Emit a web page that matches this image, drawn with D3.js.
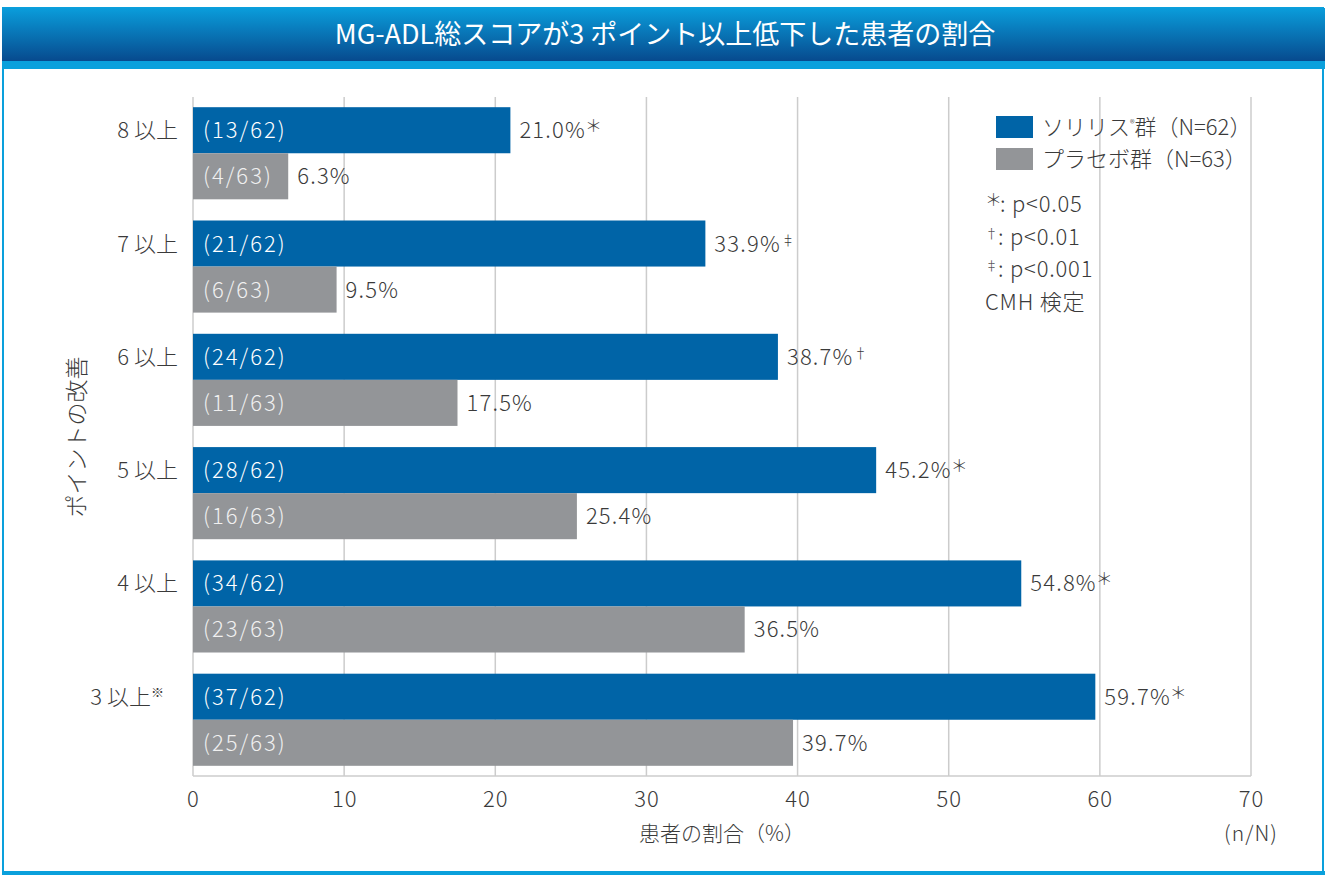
<!DOCTYPE html>
<html>
<head>
<meta charset="utf-8">
<script src="https://cdn.jsdelivr.net/npm/d3@7"></script>
<style>
  body { margin: 0; background: #fff; }
  text { font-family: "Noto Sans CJK JP", "Noto Sans", sans-serif; font-weight: 300; }
</style>
</head>
<body>
<div id="chart"></div>
<script>
var categories = ["8 以上", "7 以上", "6 以上", "5 以上", "4 以上", "3 以上"];
var soliris = [21.0, 33.9, 38.7, 45.2, 54.8, 59.7];
var placebo = [6.3, 9.5, 17.5, 25.4, 36.5, 39.7];
var solirisN = ["(13/62)", "(21/62)", "(24/62)", "(28/62)", "(34/62)", "(37/62)"];
var placeboN = ["(4/63)", "(6/63)", "(11/63)", "(16/63)", "(23/63)", "(25/63)"];
var solirisMark = ["＊", "‡", "†", "＊", "＊", "＊"];
var xTicks = [0, 10, 20, 30, 40, 50, 60, 70];

var width = 1325, height = 875;
var margin = { top: 97, right: 74, bottom: 99, left: 193 };
var ink = "#3a3a3a";

var svg = d3.select("#chart").append("svg")
  .attr("width", width).attr("height", height);

var defs = svg.append("defs");
var grad = defs.append("linearGradient").attr("id", "hdr")
  .attr("x1", 0).attr("y1", 0).attr("x2", 0).attr("y2", 1);
grad.append("stop").attr("offset", "0%").attr("stop-color", "#0a9ddb");
grad.append("stop").attr("offset", "100%").attr("stop-color", "#074a8e");

// frame
svg.append("rect").attr("x", 3).attr("y", 8).attr("width", width - 5).attr("height", 865)
  .attr("fill", "none").attr("stroke", "#0aa0dc").attr("stroke-width", 2);
svg.append("rect").attr("x", 2).attr("y", 871).attr("width", width - 2).attr("height", 4)
  .attr("fill", "#0aa0dc");
svg.append("rect").attr("x", 2).attr("y", 8).attr("width", width - 2).attr("height", 53)
  .attr("fill", "url(#hdr)");
svg.append("rect").attr("x", 2).attr("y", 61).attr("width", width - 2).attr("height", 8)
  .attr("fill", "#0aa0dc");
svg.append("text").attr("x", 665).attr("y", 44).attr("text-anchor", "middle")
  .attr("fill", "#fff").attr("font-size", 27).style("font-weight", 400)
  .text("MG-ADL総スコアが3 ポイント以上低下した患者の割合");

var x = d3.scaleLinear().domain([0, 70]).range([margin.left, width - margin.right]);
var y = d3.scaleBand().domain(categories).range([margin.top, height - margin.bottom])
  .paddingInner(0.187).paddingOuter(0.09);

var g = svg.append("g");

// grid
g.selectAll(".grid").data(xTicks.slice(1)).enter().append("line")
  .attr("x1", d => x(d)).attr("x2", d => x(d))
  .attr("y1", margin.top).attr("y2", height - margin.bottom)
  .attr("stroke", "#cccccc").attr("stroke-width", 1.5);
g.append("line").attr("x1", x(0)).attr("x2", x(0))
  .attr("y1", margin.top).attr("y2", height - margin.bottom)
  .attr("stroke", "#cccccc").attr("stroke-width", 1.5);
g.append("line").attr("x1", x(0)).attr("x2", x(70))
  .attr("y1", height - margin.bottom).attr("y2", height - margin.bottom)
  .attr("stroke", "#cccccc").attr("stroke-width", 1.5);

// x axis labels
var xAxis = g.append("g").attr("transform", "translate(0," + (height - margin.bottom) + ")")
  .call(d3.axisBottom(x).tickValues(xTicks).tickSize(0).tickPadding(15));
xAxis.select(".domain").remove();
xAxis.selectAll("text").attr("font-size", 22).attr("fill", ink)
  .attr("letter-spacing", 1)
  .style("font-family", "'Noto Sans CJK JP', sans-serif").style("font-weight", 300);

svg.append("text").attr("x", 722).attr("y", 841).attr("text-anchor", "middle")
  .attr("font-size", 21).attr("fill", ink).text("患者の割合（%）");
svg.append("text").attr("x", 1251).attr("y", 841).attr("text-anchor", "middle")
  .attr("font-size", 21).attr("letter-spacing", 1).attr("fill", ink).text("(n/N)");

// y axis labels
var half = y.bandwidth() / 2;
var yl = g.selectAll(".ylab").data(categories).enter().append("text")
  .attr("x", 178).attr("y", d => y(d) + half * 0.5 + 8)
  .attr("text-anchor", "end").attr("font-size", 22).attr("fill", ink)
  .text(d => d);
yl.filter((d, i) => i === categories.length - 1)
  .attr("x", 164)
  .append("tspan").attr("font-size", 13).attr("dy", -8).text("※");

svg.append("text").attr("transform", "translate(85,437) rotate(-90)")
  .attr("text-anchor", "middle").attr("font-size", 23).attr("fill", ink)
  .text("ポイントの改善");

// bars
var blue = "#0064a7", gray = "#939598";
categories.forEach(function (c, i) {
  var y0 = y(c);
  g.append("rect").attr("x", x(0)).attr("y", y0).attr("width", x(soliris[i]) - x(0))
    .attr("height", half).attr("fill", blue);
  g.append("rect").attr("x", x(0)).attr("y", y0 + half).attr("width", x(placebo[i]) - x(0))
    .attr("height", half).attr("fill", gray);
  g.append("text").attr("x", x(0) + 10).attr("y", y0 + half / 2 + 8)
    .attr("font-size", 22).attr("letter-spacing", 2).attr("fill", "#fff").text(solirisN[i]);
  g.append("text").attr("x", x(0) + 10).attr("y", y0 + half * 1.5 + 8)
    .attr("font-size", 22).attr("letter-spacing", 2).attr("fill", "#f0f0f0").text(placeboN[i]);
  var t = g.append("text").attr("x", x(soliris[i]) + 9).attr("y", y0 + half / 2 + 8)
    .attr("font-size", 22).attr("letter-spacing", 1.2).attr("fill", ink)
    .text(soliris[i].toFixed(1) + "%");
  var star = solirisMark[i] === "＊";
  t.append("tspan").attr("font-size", star ? 17 : 14)
    .attr("letter-spacing", 0)
    .attr("dx", star ? -1 : 0)
    .attr("dy", star ? -6 : -7).text(solirisMark[i]);
  g.append("text").attr("x", x(placebo[i]) + 9).attr("y", y0 + half * 1.5 + 8)
    .attr("font-size", 22).attr("letter-spacing", 1.2).attr("fill", ink)
    .text(placebo[i].toFixed(1) + "%");
});

// legend
var legend = [["ソリリス", "群（N=62）", blue], ["プラセボ群（N=63）", "", gray]];
legend.forEach(function (l, i) {
  var ly = 116 + i * 32;
  svg.append("rect").attr("x", 996).attr("y", ly).attr("width", 37).attr("height", 22)
    .attr("fill", l[2]);
  var t = svg.append("text").attr("x", 1042).attr("y", ly + 19)
    .attr("font-size", 22).attr("fill", ink).text(l[0]);
  if (i === 0) {
    t.append("tspan").attr("font-size", 10).attr("dy", -8).text("®");
    t.append("tspan").attr("dy", 8).text(l[1]);
  }
});
var notes = [["＊", ": p<0.05"], ["†", ": p<0.01"], ["‡", ": p<0.001"], ["", "CMH 検定"]];
notes.forEach(function (n, i) {
  var t = svg.append("text").attr("x", 985).attr("y", 212 + i * 32.5)
    .attr("font-size", 22).attr("letter-spacing", 0.8).attr("fill", ink);
  if (n[0]) {
    var star = n[0] === "＊";
    t.append("tspan").attr("font-size", star ? 17 : 13).attr("letter-spacing", 0)
      .attr("dy", star ? -6 : -7).text(n[0]);
    t.append("tspan").attr("dx", star ? -2 : 0).attr("dy", star ? 6 : 7).text(n[1]);
  } else {
    t.text(n[1]);
  }
});
</script>
</body>
</html>
